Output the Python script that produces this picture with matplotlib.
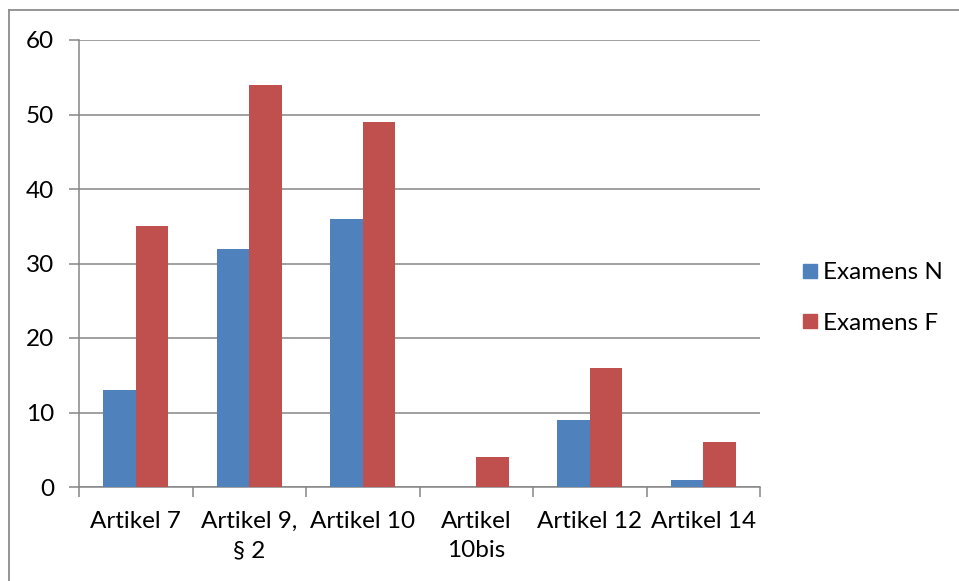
import matplotlib

matplotlib.use("Agg")
import matplotlib.pyplot as plt
from matplotlib.lines import Line2D
import numpy as np

categories = ["Artikel 7", "Artikel 9,\n§ 2", "Artikel 10", "Artikel\n10bis", "Artikel 12", "Artikel 14"]
examens_n = [13, 32, 36, 0, 9, 1]
examens_f = [35, 54, 49, 4, 16, 6]
y_ticks = [0, 10, 20, 30, 40, 50, 60]

BLUE = "#4F81BD"
RED = "#C0504D"
GRID = "#868686"
FS = 17.5

plt.rcParams["font.family"] = ["Lato", "DejaVu Sans"]

W, H = 959, 581
fig = plt.figure(figsize=(W / 100, H / 100), dpi=100)
ax = fig.add_axes([79 / W, (H - 487) / H, (760 - 79) / W, (487 - 40) / H])

x = np.arange(len(categories))
bw = 0.285
ax.bar(x - bw / 2, examens_n, bw, color=BLUE, label="Examens N", zorder=3)
ax.bar(x + bw / 2, examens_f, bw, color=RED, label="Examens F", zorder=3)

ax.set_xlim(-0.5, len(categories) - 0.5)
ax.set_ylim(0, 60)
ax.set_yticks(y_ticks)
ax.yaxis.grid(True, color=GRID, lw=1.1, zorder=0)
ax.tick_params(axis="y", length=7, width=1.1, color=GRID, labelsize=FS, pad=11)

# category boundaries get the tick marks, centres get the labels
ax.set_xticks(np.arange(len(categories) + 1) - 0.5)
ax.set_xticklabels([])
ax.set_xticks(x, minor=True)
ax.set_xticklabels(categories, minor=True, fontsize=FS, linespacing=1.5)
ax.tick_params(axis="x", which="major", length=7, width=1.1, color=GRID)
ax.tick_params(axis="x", which="minor", length=0, pad=17)

for side in ("top", "right"):
    ax.spines[side].set_visible(False)
for side in ("left", "bottom"):
    ax.spines[side].set_color(GRID)
    ax.spines[side].set_linewidth(1.1)

leg = fig.legend(
    handles=[
        Line2D([], [], marker="s", ls="", color=BLUE, markersize=10),
        Line2D([], [], marker="s", ls="", color=RED, markersize=10),
    ],
    labels=["Examens N", "Examens F"],
    loc="center left", bbox_to_anchor=(782 / W, 1 - 298 / H),
    frameon=False, fontsize=FS, handlelength=0.5, handletextpad=0.3,
    labelspacing=1.2,
)

# chart-area border (top and left edges)
fig.add_artist(Line2D([9 / W, 1], [1 - 10 / H, 1 - 10 / H], color="#8c8c8c", lw=1.3))
fig.add_artist(Line2D([9 / W, 9 / W], [1 - 10 / H, 0], color="#8c8c8c", lw=1.3))

fig.savefig("out.png", dpi=100, facecolor="white")
